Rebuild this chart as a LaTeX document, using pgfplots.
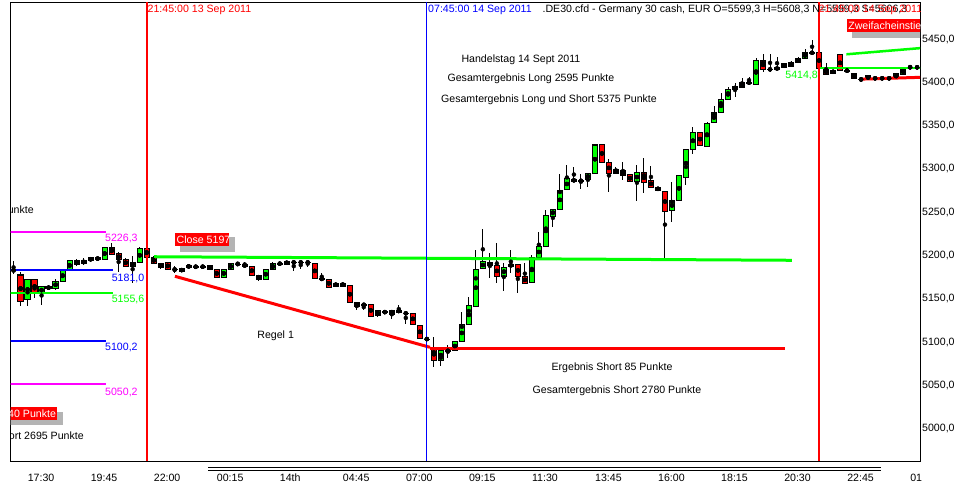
\documentclass[border=0pt]{standalone}
\usepackage{pgfplots}
\pgfplotsset{compat=1.18}
\usepackage{pgfplotstable}
\usepackage{fontspec}
\setmainfont{Liberation Sans}
\definecolor{mtgreen}{RGB}{0,255,0}
\definecolor{mtred}{RGB}{255,0,0}
\definecolor{mtmag}{RGB}{255,0,255}
\definecolor{mtblue}{RGB}{0,0,255}
\definecolor{shadowgray}{RGB}{180,180,180}

\pgfplotstableread{
i o h l c
-2 5182.5 5193.0 5178.0 5181.5
-1 5176.6 5180.4 5141.0 5145.7
0 5148.4 5172.5 5140.7 5171.6
1 5171.6 5172.5 5150.0 5155.4
2 5155.4 5164.0 5141.9 5163.1
3 5163.1 5165.0 5159.0 5161.2
4 5161.2 5172.0 5159.0 5169.6
5 5169.6 5183.0 5168.0 5182.4
6 5182.4 5194.0 5181.0 5193.1
7 5193.1 5195.0 5187.0 5188.9
8 5190.1 5196.0 5188.0 5193.1
9 5193.1 5198.0 5192.0 5196.6
10 5196.6 5197.5 5193.5 5194.7
11 5194.7 5209.0 5194.0 5208.2
12 5208.2 5213.0 5200.0 5200.9
13 5200.9 5203.0 5180.4 5194.7
14 5194.7 5196.0 5186.0 5187.0
15 5187.0 5199.0 5167.7 5191.2
16 5191.2 5209.0 5190.0 5207.4
17 5207.4 5210.0 5196.0 5197.5
18 5197.0 5198.0 5189.0 5190.1
19 5190.1 5191.0 5184.0 5185.4
20 5191.2 5192.0 5182.0 5183.3
21 5183.0 5186.5 5178.5 5183.0
22 5180.8 5184.5 5180.0 5183.9
23 5185.4 5188.5 5185.0 5187.8
24 5186.2 5187.5 5184.5 5186.2
25 5186.2 5187.0 5185.5 5186.2
26 5187.8 5188.5 5182.5 5183.1
27 5183.1 5184.0 5173.5 5173.9
28 5173.9 5184.0 5173.5 5183.1
29 5183.1 5191.0 5182.5 5190.1
30 5189.3 5191.6 5187.8 5189.3
31 5188.5 5191.6 5186.0 5186.6
32 5186.6 5187.0 5176.0 5176.6
33 5176.6 5177.0 5170.0 5171.9
34 5171.9 5184.0 5171.5 5183.1
35 5183.1 5191.6 5182.5 5189.3
36 5189.3 5191.0 5188.5 5190.1
37 5189.3 5193.0 5189.0 5192.4
38 5191.2 5192.0 5181.6 5191.2
39 5191.2 5193.2 5183.1 5191.2
40 5191.2 5193.2 5186.2 5191.2
41 5190.1 5191.0 5172.0 5172.7
42 5172.0 5179.3 5170.0 5172.0
43 5171.6 5172.0 5162.0 5162.3
44 5163.9 5167.5 5163.5 5167.0
45 5167.0 5168.0 5163.5 5163.9
46 5163.9 5164.5 5144.5 5145.0
47 5145.0 5145.5 5136.1 5140.7
48 5142.3 5143.0 5136.1 5142.3
49 5142.3 5143.0 5128.5 5129.2
50 5129.9 5136.0 5128.2 5135.3
51 5134.6 5135.0 5132.5 5133.0
52 5131.5 5136.5 5126.0 5136.1
53 5136.1 5141.5 5133.0 5133.8
54 5132.3 5134.6 5119.5 5132.3
55 5132.3 5133.0 5119.0 5119.5
56 5118.4 5119.0 5103.0 5103.4
57 5102.6 5103.5 5102.0 5102.6
58 5091.8 5104.5 5070.6 5078.3
59 5078.3 5090.5 5071.4 5089.9
60 5089.1 5095.7 5080.3 5089.1
61 5089.1 5100.5 5088.5 5099.9
62 5099.9 5134.2 5099.5 5119.5
63 5119.5 5151.6 5118.5 5141.5
64 5140.7 5205.5 5140.0 5183.1
65 5184.3 5229.7 5183.0 5192.0
66 5191.2 5201.6 5172.7 5187.4
67 5187.4 5213.2 5166.9 5175.4
68 5175.4 5190.1 5158.5 5185.8
69 5187.0 5205.5 5178.5 5188.5
70 5188.5 5189.0 5155.4 5175.4
71 5175.4 5190.1 5166.5 5166.9
72 5168.1 5199.7 5167.5 5197.0
73 5197.0 5226.7 5196.5 5209.7
74 5209.7 5251.7 5209.0 5245.6
75 5244.8 5253.0 5232.4 5252.5
76 5252.5 5293.3 5252.0 5274.4
77 5275.6 5303.7 5275.0 5288.3
78 5287.2 5301.0 5284.5 5284.9
79 5285.6 5293.3 5275.6 5285.6
80 5287.2 5294.5 5278.7 5294.1
81 5294.1 5327.5 5293.5 5326.9
82 5327.6 5328.0 5306.0 5306.8
83 5306.8 5310.3 5272.9 5294.1
84 5294.1 5301.8 5293.5 5298.7
85 5297.4 5307.2 5286.4 5291.8
86 5292.2 5292.5 5284.5 5284.9
87 5284.9 5303.8 5262.6 5294.9
88 5294.9 5312.6 5271.8 5283.4
89 5286.1 5302.6 5277.5 5278.0
90 5278.0 5278.5 5274.0 5274.5
91 5273.3 5274.0 5195.9 5249.8
92 5251.4 5283.8 5238.3 5262.6
93 5262.6 5291.5 5262.0 5291.1
94 5289.7 5322.5 5280.7 5321.9
95 5321.9 5347.3 5316.5 5341.6
96 5341.6 5342.0 5325.5 5326.1
97 5325.0 5353.9 5324.5 5352.0
98 5352.7 5372.0 5352.0 5364.7
99 5364.7 5386.6 5364.0 5379.7
100 5379.7 5394.4 5379.0 5391.3
101 5394.4 5398.2 5382.8 5391.3
102 5393.2 5404.0 5392.5 5399.0
103 5399.0 5405.1 5398.5 5399.0
104 5397.4 5427.1 5397.0 5424.4
105 5424.8 5432.8 5411.6 5414.4
106 5414.4 5432.0 5411.6 5414.4
107 5416.6 5429.0 5414.0 5414.3
108 5416.6 5421.0 5416.0 5420.5
109 5418.2 5423.5 5417.5 5422.8
110 5422.4 5428.0 5422.0 5427.1
111 5427.1 5437.4 5426.5 5433.6
112 5433.6 5448.2 5432.8 5433.6
113 5433.6 5434.0 5415.0 5415.5
114 5414.3 5421.3 5407.8 5408.9
115 5409.7 5414.0 5409.0 5413.5
116 5430.9 5431.5 5412.0 5412.8
117 5412.8 5414.3 5411.2 5412.8
118 5409.7 5410.0 5403.5 5404.0
119 5402.8 5404.0 5401.2 5402.8
120 5402.8 5407.5 5402.5 5407.0
121 5404.0 5404.5 5403.5 5404.0
122 5404.0 5404.5 5403.5 5404.0
123 5404.0 5404.5 5403.5 5404.0
124 5404.0 5409.5 5403.5 5409.0
125 5409.0 5415.0 5408.5 5414.3
126 5416.6 5418.2 5416.0 5416.6
127 5416.6 5417.5 5416.0 5416.6
}\candles

\begin{document}
\fontsize{10.6bp}{12bp}\selectfont
\begin{tikzpicture}
\useasboundingbox (0,0) rectangle (961bp,487bp);
\begin{axis}[
  at={(10.7bp,26bp)}, anchor=south west,
  width=909.3bp, height=458.7bp, scale only axis,
  xmin=-2.41, xmax=127.41, ymin=4961.6, ymax=5491.8,
  axis line style={line width=0.8bp},
  xtick={0,9,...,126},
  xticklabels={17:30,19:45,22:00,00:15,14th,04:45,07:00,09:15,11:30,13:45,16:00,18:15,20:30,22:45,01},
  x tick label style={anchor=base west, inner sep=0pt, yshift=-21bp},
  ytick={5000,5050,...,5450},
  yticklabel pos=right,
  y tick label style={anchor=base west, inner sep=0pt, xshift=2bp, yshift=-3.75bp,
    /pgf/number format/.cd, fixed, fixed zerofill, precision=1, use comma, 1000 sep={}, assume math mode=true},
  scaled y ticks=false,
  major tick length=0pt,
  tick label style={font=\fontsize{10.6bp}{12bp}\selectfont},
]
% wicks
\addplot[only marks, mark=none, error bars/.cd, y dir=both, y explicit, error mark=none,
  error bar style={line width=1bp, black}]
  table[x=i, y expr={(\thisrow{h}+\thisrow{l})/2}, y error expr={(\thisrow{h}-\thisrow{l})/2}] {\candles};
% body outlines
\addplot[only marks, mark=none, error bars/.cd, y dir=both, y explicit, error mark=none,
  error bar style={line width=6.2bp, black}]
  table[x=i, y expr={(\thisrow{o}+\thisrow{c})/2}, y error expr={abs(\thisrow{c}-\thisrow{o})/2+0.65}] {\candles};
% bullish bodies
\addplot[only marks, mark=none, error bars/.cd, y dir=both, y explicit, error mark=none,
  error bar style={line width=4.2bp, mtgreen}]
  table[x=i, y expr={(\thisrow{o}+\thisrow{c})/2}, y error expr={(\thisrow{c}>\thisrow{o})*max(abs(\thisrow{c}-\thisrow{o})/2-0.55,0)}] {\candles};
% bearish bodies
\addplot[only marks, mark=none, error bars/.cd, y dir=both, y explicit, error mark=none,
  error bar style={line width=4.2bp, mtred}]
  table[x=i, y expr={(\thisrow{o}+\thisrow{c})/2}, y error expr={(\thisrow{o}>\thisrow{c})*max(abs(\thisrow{c}-\thisrow{o})/2-0.55,0)}] {\candles};

% left level lines
\addplot[mtmag, line width=2bp] coordinates {(-3,5226.3) (11.19,5226.3)};
\addplot[mtmag, line width=2bp] coordinates {(-3,5050.2) (11.19,5050.2)};
\addplot[mtblue, line width=2bp] coordinates {(-3,5182.0) (12.24,5182.0)};
\addplot[mtblue, line width=2bp] coordinates {(-3,5100.2) (11.19,5100.2)};
\addplot[mtgreen, line width=2bp] coordinates {(-3,5155.6) (12.24,5155.6)};
% close line and rule lines
\addplot[mtgreen, line width=3bp] coordinates {(18.05,5197.7) (109.1,5193.6)};
\addplot[mtred, line width=3bp] coordinates {(21.04,5175.1) (57.45,5093.0)};
\addplot[mtred, line width=3bp] coordinates {(57.45,5092.0) (108.1,5092.0)};
% right side lines
\addplot[mtgreen, line width=2.5bp] coordinates {(116.9,5431.7) (128,5439.2)};
\addplot[mtgreen, line width=2.5bp] coordinates {(113,5416.0) (128,5416.0)};
\addplot[mtred, line width=3bp] coordinates {(119,5403.0) (128,5405.2)};
% vertical lines
\addplot[mtred, line width=2bp] coordinates {(17,4950) (17,5500)};
\addplot[mtred, line width=2bp] coordinates {(113,4950) (113,5500)};
\addplot[mtblue, line width=0.8bp] coordinates {(57,4950) (57,5500)};

% level labels
\node[mtmag, anchor=base west, inner sep=0pt] at (axis cs:11.05,5215.0) {5226,3};
\node[mtblue, anchor=base west, inner sep=0pt] at (axis cs:12.0,5169.5) {5181,0};
\node[mtgreen, anchor=base west, inner sep=0pt] at (axis cs:12.0,5144.5) {5155,6};
\node[mtblue, anchor=base west, inner sep=0pt] at (axis cs:11.05,5089.3) {5100,2};
\node[mtmag, anchor=base west, inner sep=0pt] at (axis cs:11.05,5037.7) {5050,2};
\node[mtgreen, anchor=base east, inner sep=0pt] at (axis cs:112.85,5403.4) {5414,8};

% top texts
\node[anchor=base west, inner sep=0pt] at (axis cs:73.5,5479.5) {.DE30.cfd - Germany 30 cash, EUR O=5599,3 H=5608,3 N=5599,3 S=5606,3};
\node[mtred, anchor=base west, inner sep=0pt] at (axis cs:17.12,5479.7) {21:45:00 13 Sep 2011};
\node[mtblue, anchor=base west, inner sep=0pt] at (axis cs:57.17,5479.7) {07:45:00 14 Sep 2011};
\node[mtred, anchor=base west, inner sep=0pt] at (axis cs:112.92,5479.7) {21:45:00 14 Sep 2011};

% boxes
\fill[shadowgray] (axis cs:117.7,5466.8) rectangle (axis cs:128.5,5450.6);
\fill[mtred] (axis cs:117.0,5472.5) rectangle (axis cs:128.5,5457.5);
\node[white, anchor=base west, inner sep=0pt] at (axis cs:117.15,5460.1) {Zweifacheinstieg};
\fill[shadowgray] (axis cs:21.76,5220.2) rectangle (axis cs:29.61,5203.5);
\fill[mtred] (axis cs:21.04,5224.8) rectangle (axis cs:28.75,5210.1);
\node[white, anchor=base west, inner sep=0pt] at (axis cs:21.26,5212.7) {Close 5197};
\fill[shadowgray] (axis cs:-5,5018.2) rectangle (axis cs:5.05,5003.2);
\fill[mtred] (axis cs:-5,5024.0) rectangle (axis cs:4.15,5009.0);
\node[white, anchor=base east, inner sep=0pt] at (axis cs:4.08,5012.1) {Ergebnis Short 40 Punkte};

% annotations
\node[anchor=base east, inner sep=0pt] at (axis cs:0.91,5247.3) {Gesamtergebnis Punkte};
\node[anchor=base east, inner sep=0pt] at (axis cs:8.05,4986.1) {Gesamtergebnis Short 2695 Punkte};
\node[anchor=base, inner sep=0pt] at (axis cs:70.44,5422.7) {Handelstag 14 Sept 2011};
\node[anchor=base, inner sep=0pt] at (axis cs:71.87,5400.8) {Gesamtergebnis Long 2595 Punkte};
\node[anchor=base, inner sep=0pt] at (axis cs:74.44,5375.7) {Gesamtergebnis Long und Short 5375 Punkte};
\node[anchor=base, inner sep=0pt] at (axis cs:35.42,5102.8) {Regel 1};
\node[anchor=base, inner sep=0pt] at (axis cs:83.44,5065.8) {Ergebnis Short 85 Punkte};
\node[anchor=base, inner sep=0pt] at (axis cs:84.15,5039.2) {Gesamtergebnis Short 2780 Punkte};
\end{axis}
\draw[line width=0.8bp] (208bp,19.3bp) -- (881bp,19.3bp);
\draw[line width=0.8bp] (208bp,17.0bp) -- (881bp,17.0bp);
\end{tikzpicture}
\end{document}
